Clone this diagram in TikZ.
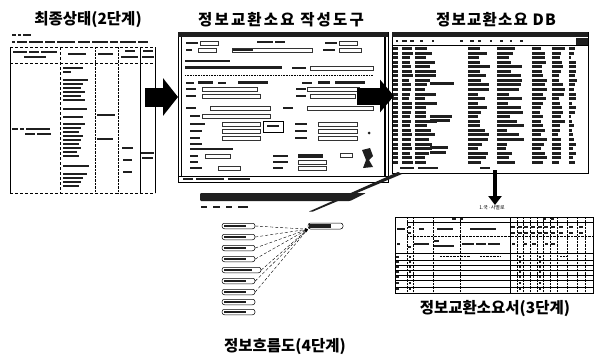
\documentclass[tikz,border=0pt]{standalone}
\usepackage{fontspec}
\newfontfamily\kr{Noto Sans CJK KR}
\usetikzlibrary{arrows.meta}
\tikzset{
  ttl/.style={font=\kr\bfseries\fontsize{15.5}{18}\selectfont, inner sep=0pt},
  frm/.style={draw, line width=0.9pt, inner sep=0pt},
  ink/.style={fill=black!88},
  fld/.style={draw=black!80, line width=0.6pt},
  bigarrow/.style={line width=19pt, -{Triangle[length=15pt,width=37pt]}},
  fbox/.style={draw, rounded corners=2.5pt, line width=0.5pt, minimum height=5.5pt, inner sep=0pt},
  flowln/.style={densely dashed, line width=0.4pt, -{Stealth[length=3pt]}},
  gridln/.style={line width=0.4pt, densely dotted},
}
\newcommand\mybar[3]{\fill[ink] (#1,#2) rectangle ++(#3,2.4);}
\newcommand\myfld[3]{\draw[fld] (#1,#2) rectangle ++(#3,4);}
\begin{document}
\begin{tikzpicture}[x=1pt,y=-1pt]
\useasboundingbox (0,0) rectangle (595,364);

% ---------------- titles ----------------
\node[ttl] (t1) at (88,20) {최종상태(2단계)};
\node[ttl] (t2) at (281,19.5) {\addfontfeature{LetterSpace=14}정보교환소요 작성도구};
\node[ttl] (t3) at (496,19.5) {\addfontfeature{LetterSpace=8}정보교환소요 DB};
\node[ttl] (t4) at (495,309) {정보교환소요서(3단계)};
\node[ttl] (t5) at (285,347) {정보흐름도(4단계)};

% ---------------- document 1 (final state) ----------------
\node[frm, draw=none, minimum width=145pt, minimum height=146pt] (s1) at (82.5,120) {};
\mybar{12}{34}{4}\mybar{18}{34}{3}\mybar{23}{34}{8}
\foreach \x/\w in {12/3,17/10,29/14,45/10,57/18,78/12,92/16,110/8,120/16,138/10}{\mybar{\x}{41}{\w}}
\draw[line width=0.8pt] (10,47) -- (10,193);
\draw[line width=0.8pt] (155,47) -- (155,193);
\draw[line width=0.7pt,densely dashed] (10,47) -- (155,47);
\draw[line width=0.7pt,densely dashed] (10,63) -- (155,63);
\draw[line width=0.7pt,densely dashed] (10,193) -- (155,193);
\draw[line width=0.6pt,densely dashed] (60,47) -- (60,193);
\draw[gridln] (95,47) -- (95,193);
\draw[gridln] (118,47) -- (118,193);
\draw[line width=0.8pt] (140,47) -- (140,193);
% header cells
\mybar{13}{51}{14}\mybar{29}{51}{10}\mybar{41}{51}{16}
\mybar{24}{56}{22}
\mybar{68}{53}{18}
\mybar{98}{53}{15}
\mybar{125}{50}{10}\mybar{121}{56}{17}
\mybar{143}{50}{10}\mybar{142}{56}{12}
% body
\mybar{12}{128}{6}\mybar{20}{128}{4}\mybar{26}{128}{24}
\mybar{25}{133}{10}\mybar{37}{133}{14}
\foreach \yy/\w in {67/20,71/8,79/25,83/20,87/18,91/22,95/18,99/22,108/24,116/20,123/22,127/18,131/16,135/20,139/18,143/16,147/18,151/14,155/16,165/26,173/24,177/20,181/18,185/16}{\mybar{63}{\yy}{\w}}
\mybar{97}{114}{18}
\mybar{97}{138}{16}
\mybar{122}{147}{11}
\mybar{123}{159}{9}
\mybar{123}{171}{9}
\mybar{141}{152}{13}\mybar{142}{157}{11}

% ---------------- screenshot 2 (tool) ----------------
\node[frm, minimum width=210pt, minimum height=150pt] (s2) at (283,107) {};
\fill[ink] (s2.north west) rectangle ([yshift=-5pt]s2.north east);
\draw[line width=0.6pt] (181,37) -- (181,176);
\draw[line width=1.2pt] (385,37) -- (385,176);
\draw[line width=0.6pt] (178,176) -- (388,176);
\mybar{186}{42}{12}\myfld{200}{41}{18}\mybar{257}{41}{16}\mybar{275}{41}{10}\mybar{325}{42}{12}\myfld{339}{41}{18}
\mybar{186}{49}{6}\myfld{198}{48}{18}\myfld{232}{48}{80}\mybar{233}{49}{20}\mybar{323}{49}{12}\myfld{339}{48}{22}
\mybar{185}{60}{45}
\fill[ink] (185,66) rectangle (282,69);\mybar{292}{67}{14}\myfld{310}{66}{63}
\draw[densely dotted,line width=0.6pt] (185,75) -- (373,75);
\mybar{186}{82}{8}\fill[ink] (198,81) rectangle ++(15,3);\mybar{218}{82}{8}\fill[ink] (238,81) rectangle ++(30,3);\mybar{302}{82}{10}\fill[ink] (318,81) rectangle ++(12,3);\fill[ink] (335,81) rectangle ++(30,3);
\mybar{186}{88}{10}\myfld{202}{87}{55}\mybar{296}{88}{10}\myfld{307}{87}{52}
\mybar{186}{95}{10}\myfld{202}{94}{58}\mybar{296}{95}{10}\myfld{310}{94}{45}
\mybar{186}{107}{10}\myfld{210}{106}{60}\mybar{283}{107}{10}\myfld{307}{106}{66}
\mybar{190}{115}{10}\myfld{202}{114}{68}
\mybar{190}{123}{15}\myfld{222}{122}{38}\mybar{295}{123}{12}\myfld{318}{122}{39}
\draw[line width=0.7pt] (263,121) rectangle (283,132);\mybar{267}{125}{12}
\mybar{190}{130}{12}\myfld{222}{129}{38}\mybar{295}{130}{12}\myfld{318}{129}{39}
\mybar{190}{137}{10}\myfld{222}{136}{38}\mybar{295}{137}{12}\myfld{318}{136}{39}
\fill[ink] (369,133) circle (1.5);
\mybar{190}{143}{12}
\mybar{190}{148}{43}
\mybar{190}{155}{8}\myfld{205}{154}{25}\mybar{273}{155}{15}\fill[ink] (298,154) rectangle ++(25,4);\myfld{340}{153}{12}
\mybar{190}{161}{8}\mybar{273}{161}{15}\myfld{298}{160}{28}
\mybar{190}{167}{12}\myfld{218}{166}{22}\mybar{273}{167}{10}\myfld{298}{166}{28}
\fill[ink] (362,150) -- (370,148) -- (373,156) -- (369,160) -- (373,167) -- (363,168) -- (366,160) -- cycle;
\mybar{183}{178}{10}\mybar{196}{178}{28}\mybar{228}{178}{22}

% ---------------- screenshot 3 (DB) ----------------
\node[frm, minimum width=196pt, minimum height=141pt] (s3) at (490,102.5) {};
\fill[ink] (s3.north west) rectangle ([yshift=-5pt]s3.north east);
\foreach \x/\w in {396/2,402/5,410/4,420/3,432/2,460/3,470/4,478/3,490/2,500/3,510/2,520/3}{\fill[ink] (\x,40) rectangle ++(\w,2);}
\fill[ink] (576,38) rectangle (588,46);
\draw[line width=0.5pt] (392,45) -- (588,45);
\pgfmathsetseed{7}
\foreach \r in {0,...,25}{
  \pgfmathsetmacro\yy{47+\r*4.55}
  \fill[ink] (393,\yy) rectangle ++(5,3);
  \pgfmathsetmacro\wa{7+4*rnd}
  \fill[ink] (402,\yy) rectangle ++(\wa,3);
  \pgfmathsetmacro\wb{10+12*rnd}
  \fill[ink] (415,\yy) rectangle ++(\wb,3);
  \pgfmathsetmacro\wc{10+12*rnd}
  \fill[ink] (468,\yy) rectangle ++(\wc,3);
  \pgfmathsetmacro\wd{8+22*rnd}
  \fill[ink] (497,\yy) rectangle ++(\wd,3);
  \pgfmathsetmacro\we{8+8*rnd}
  \fill[ink] (532,\yy) rectangle ++(\we,3);
  \pgfmathsetmacro\wf{6+8*rnd}
  \fill[ink] (552,\yy) rectangle ++(\wf,3);
  \pgfmathsetmacro\wg{2+6*rnd}
  \fill[ink] (569,\yy) rectangle ++(\wg,3);
}
\foreach \yy/\w in {82/24,115/22,119/20,146/18,151/16}{\fill[ink] (430,\yy) rectangle ++(\w,3);}
\mybar{400}{167}{14}\mybar{418}{167}{20}\mybar{480}{167}{10}

% ---------------- big arrows ----------------
\coordinate (a1s) at (145,97);
\coordinate (a1e) at (178,97);
\draw[bigarrow] (a1s) -- (a1e);
\coordinate (a2s) at (357,96);
\coordinate (a2e) at (394,96);
\draw[line width=17pt, -{Triangle[length=14pt,width=32pt]}] (a2s) -- (a2e);

% ---------------- table (3rd stage) ----------------
\node[inner sep=0pt, font=\kr\fontsize{5}{6}\selectfont] (lab) at (492,207.5) {1.국·사별로};
\node[frm, line width=0.8pt, minimum width=198pt, minimum height=76pt] (tb) at (494,255) {};
\coordinate (dtop) at (495,170);
\draw[line width=4.5pt, -{Triangle[length=9pt,width=13pt]}] (dtop) -- (lab.north -| dtop);
\draw[line width=0.6pt] (407,222) -- (593,222);
\draw[gridln] (407,236) -- (593,236);
\draw[line width=0.7pt] (395,253) -- (593,253);
\foreach \yy in {260,265,270,275,280,287}{\draw[line width=0.5pt] (395,\yy) -- (593,\yy);}
\foreach \x in {407,413,433,460,517,523,530,537,543,550,557,567,577,585}{\draw[gridln] (\x,217) -- (\x,293);}
\draw[line width=0.6pt] (510,217) -- (510,293);
\mybar{452}{218}{4}\mybar{460}{218}{3}\mybar{543}{218}{3}\mybar{551}{218}{3}
\mybar{397}{228}{8}\mybar{408}{226}{3}\mybar{408}{232}{3}\mybar{419}{228}{5}\mybar{437}{228}{16}\mybar{470}{228}{26}
\foreach \x in {511,518,524,531,538,544,551,559,569,579}{\mybar{\x}{226}{4}\mybar{\x}{232}{4}}
\mybar{397}{243}{3}\mybar{408}{246}{3}\mybar{414}{243}{15}\mybar{434}{240}{5}\mybar{434}{245}{20}\mybar{462}{243}{12}\mybar{476}{243}{10}\mybar{488}{243}{12}
\mybar{512}{243}{3}\mybar{524}{243}{3}\mybar{532}{243}{4}\mybar{545}{243}{3}\mybar{551}{243}{4}
\foreach \yy in {256,261,266,271,276,282,288}{\mybar{396}{\yy}{3}\fill[ink] (409,\yy) rectangle ++(2,2);\fill[ink] (519,\yy) rectangle ++(2,2);\fill[ink] (539,\yy) rectangle ++(2,2);}
\foreach \x/\w in {440/30,480/20,560/8}{\draw[gridln] (\x,256) -- ++(\w,0);}

% ---------------- flow diagram (4th stage) ----------------
\coordinate (wtop) at (400,172);
\coordinate (wbot) at (311,211.5);
\fill[ink] ([xshift=-2pt]wtop) -- ([xshift=2pt,yshift=-2pt]wtop) -- ([xshift=2pt]wbot) -- ([xshift=-2pt]wbot) -- cycle;
\fill[ink, rounded corners=1pt] (200,193) -- (366,193) -- (350,201) -- (200,201) -- cycle;
\mybar{201}{206}{6}\mybar{213}{206}{7}\mybar{226}{206}{6}\mybar{238}{206}{10}
\foreach \i/\xx/\yy/\ww in {1/238.5/226/33,2/238.5/237/33,3/238.5/248/33,4/238.5/259/33,5/241.5/270/39,6/238.5/281/33,7/238.5/292/33,8/238.5/302/33,9/238.5/312/33}{
  \node[fbox, minimum width=\ww pt] (f\i) at (\xx,\yy) {};
  \fill[ink] ([xshift=2pt,yshift=1pt]f\i.west) rectangle ([xshift=-9pt,yshift=-1pt]f\i.east);
}
\node[fbox, minimum width=35pt, minimum height=6pt] (tg) at (325.5,226) {};
\fill[ink] ([xshift=1.5pt,yshift=-1.2pt]tg.north west) rectangle ([xshift=-12pt,yshift=1.2pt]tg.south east);
\foreach \i in {1,...,7}{\draw[flowln] (f\i.east) -- (tg.south west);}
\end{tikzpicture}
\end{document}
